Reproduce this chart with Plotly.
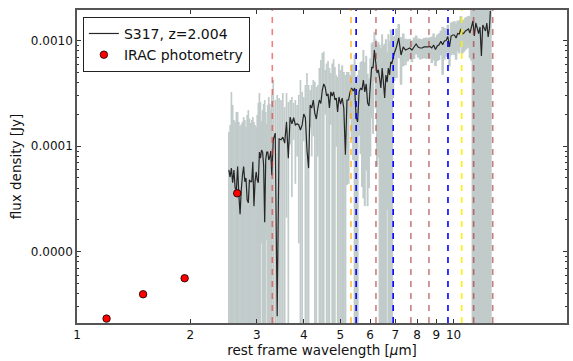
import plotly.graph_objects as go

# IRS spectrum of S317 (rest frame), flux and 1-sigma error in microJy
wave_um = [
    2.53, 2.55, 2.57, 2.59, 2.61, 2.63, 2.65, 2.67, 2.69, 2.71, 2.73, 2.75, 2.77, 2.79, 2.81,
    2.83, 2.85, 2.87, 2.89, 2.91, 2.93, 2.95, 2.97, 2.99, 3.01, 3.03, 3.05, 3.07, 3.09, 3.11,
    3.13, 3.15, 3.17, 3.19, 3.21, 3.23, 3.25, 3.27, 3.29,
    3.32, 3.36, 3.40, 3.44, 3.48, 3.52, 3.56, 3.60, 3.64, 3.68, 3.72, 3.76, 3.80, 3.84, 3.88,
    3.92, 3.96, 4.00, 4.04, 4.08, 4.12, 4.16, 4.20, 4.24, 4.28, 4.32, 4.36, 4.40, 4.44, 4.48,
    4.52, 4.56, 4.60, 4.64, 4.68, 4.72, 4.76, 4.80, 4.84, 4.88, 4.92, 4.96,
    5.01, 5.06, 5.11, 5.16, 5.21, 5.26, 5.31, 5.36, 5.41, 5.46, 5.51, 5.56, 5.61, 5.66, 5.71,
    5.76, 5.81, 5.86, 5.91, 5.96, 6.01, 6.06, 6.11, 6.16, 6.21, 6.26, 6.31, 6.36, 6.41, 6.46,
    6.51, 6.56, 6.61, 6.66, 6.71, 6.76, 6.81, 6.86, 6.91, 6.96,
    7.05, 7.15, 7.25, 7.35, 7.45, 7.55, 7.65, 7.75, 7.85, 7.95, 8.05, 8.15, 8.25, 8.35, 8.45,
    8.55, 8.65, 8.75, 8.85, 8.95, 9.05, 9.15, 9.25, 9.35, 9.45, 9.55, 9.65, 9.75, 9.85, 9.95,
    10.05, 10.15, 10.25, 10.35, 10.45, 10.55, 10.65, 10.75, 10.85, 10.95, 11.05, 11.15, 11.25,
    11.35, 11.45, 11.55, 11.65, 11.75, 11.85, 11.95, 12.05, 12.15, 12.25, 12.35, 12.45, 12.52,
]
flux_ujy = [
    59.5, 51, 62, 45, 59.5, 40, 38.5, 64, 34.5, 22.7, 38.5, 53, 64, 46, 50,
    31, 29, 48, 46, 46, 71, 27, 46, 57, 48, 45, 88, 77, 92, 88,
    66, 19, 74, 88, 88, 74, 79, 90, 53,
    115, 133, 2.45, 117, 115, 122, 107, 170, 77, 189, 163, 186, 159, 163, 159,
    142, 159, 202, 186, 92, 62, 246, 230, 274, 206, 181, 230, 274, 254, 341,
    389, 364, 299, 313, 230, 327, 299, 327, 274, 286, 211, 293,
    251, 286, 230, 83, 274, 274, 327, 356, 334, 356, 189, 170, 327, 356, 341,
    424, 327, 389, 257, 240, 380, 564, 551, 816, 628, 494, 528, 441, 356, 551,
    405, 286, 473, 405, 551, 473, 628, 615, 686, 765,
    872, 1061, 732, 872, 816, 834, 853, 816, 872, 930, 872, 853, 853, 872, 872,
    872, 881, 853, 910, 825, 891, 916, 987, 916, 993, 1004, 1096, 872, 1108, 1132,
    1132, 1061, 1170, 1157, 1291, 1157, 1183, 1236, 1263, 1291, 1183, 1348, 1537,
    1108, 1471, 1320, 1170, 1348, 716, 1409, 1320, 1236, 1471, 1084, 1320, 1912,
]
err_ujy = [
    77, 108, 265, 201, 118, 130, 172, 147, 135, 132, 123, 117, 125, 131, 102,
    167, 191, 135, 120, 131, 118, 143, 113, 95, 150, 212, 231, 185, 80, 132,
    185, 255, 137, 75, 158, 219, 172, 130, 253,
    309, 141, 304, 169, 159, 197, 128, 149, 185, 85, 130, 71, 115, 83, 147,
    282, 168, 91, 194, 402, 318, 95, 150, 150, 204, 183, 150, 277, 402, 424,
    400, 164, 310, 330, 321, 167, 310, 340, 290, 187, 242, 310,
    277, 300, 275, 390, 231, 230, 146, 240, 260, 380, 264, 303, 201, 272, 300,
    392, 300, 330, 230, 200, 300, 380, 420, 400, 400, 430, 450, 480, 500, 600,
    500, 650, 560, 380, 600, 520, 650, 640, 400, 350,
    430, 380, 350, 300, 230, 200, 190, 190, 200, 190, 180, 190, 180, 190, 200,
    190, 200, 240, 260, 250, 250, 260, 260, 440, 330, 300, 320, 300, 380, 380,
    400, 400, 380, 400, 420, 400, 400, 420, 420, 430, 500, 700, 1700,
    1500, 1800, 1600, 1500, 1700, 1400, 1700, 1600, 1500, 1800, 1500, 1600, 2000,
]

# IRAC 3.6/4.5/5.8/8.0 um photometry shifted to the rest frame
irac_wave_um = [1.198, 1.498, 1.931, 2.663]
irac_flux_ujy = [2.32, 3.95, 5.6, 35.8]

# Feature wavelengths (PAH, H2, [FeII], [SIV]) and their marker colours
feature_wave_um = [3.30, 5.34, 5.51, 6.22, 6.91, 7.70, 8.60, 9.66, 10.51, 11.30, 12.70]
feature_color = [
    "rgba(235,40,40,0.6)", "rgba(255,165,0,0.75)", "rgba(0,0,255,1)", "rgba(165,42,42,0.6)",
    "rgba(0,0,255,1)", "rgba(165,42,42,0.6)", "rgba(165,42,42,0.6)", "rgba(0,0,255,1)",
    "rgba(255,240,0,0.95)", "rgba(165,42,42,0.6)", "rgba(165,42,42,0.6)",
]

x_tick_vals = [1, 2, 3, 4, 5, 6, 7, 8, 9, 10, 20]
y_tick_vals = [1e-5, 1e-4, 1e-3]
y_tick_text = ["0.0000", "0.0001", "0.0010"]
y_minor_vals = [k * 10.0 ** e for e in (-6, -5, -4, -3) for k in range(2, 10)]

Y_LOG_RANGE = [-5.676, -2.709]
UJY = 1e-6
Y_BOTTOM = 10 ** Y_LOG_RANGE[0]
Y_TOP = 10 ** Y_LOG_RANGE[1]

flux = [f * UJY for f in flux_ujy]
# band edges, kept inside the visible range (non-positive lower bounds sit on the bottom axis)
upper = [min((f + e) * UJY, Y_TOP) for f, e in zip(flux_ujy, err_ujy)]
lower = [max((f - e) * UJY, Y_BOTTOM) for f, e in zip(flux_ujy, err_ujy)]

FONT = "DejaVu Sans, Arial, sans-serif"
BAND = "rgb(193,203,202)"

fig = go.Figure()


def band_trace(lo_w, hi_w, width):
    """Error band drawn as one vertical bar per spectral sample."""
    xs, ys = [], []
    for w, lo, hi in zip(wave_um, lower, upper):
        if lo_w <= w < hi_w:
            xs += [w, w, None]
            ys += [lo, hi, None]
    return go.Scatter(x=xs, y=ys, mode="lines",
                      line=dict(color=BAND, width=width, simplify=False),
                      showlegend=False, hoverinfo="skip")


fig.add_trace(band_trace(0, 5.0, 1.7))
fig.add_trace(band_trace(5.0, 7.0, 2.0))
fig.add_trace(band_trace(7.0, 99, 2.6))

# spectrum
fig.add_trace(go.Scatter(x=wave_um, y=flux, mode="lines", name="S317, z=2.004",
                         line=dict(color="#262626", width=1.2, simplify=False)))

# feature markers
for w, c in zip(feature_wave_um, feature_color):
    fig.add_trace(go.Scatter(x=[w, w], y=[Y_BOTTOM, Y_TOP], mode="lines",
                             line=dict(color=c, width=1.6, dash="6px,6px"),
                             showlegend=False, hoverinfo="skip"))

# photometry
fig.add_trace(go.Scatter(x=irac_wave_um, y=[f * UJY for f in irac_flux_ujy],
                         mode="markers", name="IRAC photometry",
                         marker=dict(color="red", size=7.5,
                                     line=dict(color="black", width=0.8))))

axis_common = dict(
    type="log", showgrid=False, zeroline=False, showline=True,
    linecolor="#555555", linewidth=1.5, mirror="ticks",
    ticks="inside", ticklen=4, tickwidth=1, tickcolor="#333333",
    tickfont=dict(family=FONT, size=12, color="#111111"),
    automargin=False,
)

fig.update_layout(
    width=573, height=361,
    margin=dict(l=77, r=6, t=10, b=38),
    paper_bgcolor="white", plot_bgcolor="white",
    font=dict(family=FONT, color="#111111"),
    xaxis=dict(
        **axis_common,
        range=[0, 1.30103],
        tickmode="array", tickvals=x_tick_vals,
        ticktext=[str(v) for v in x_tick_vals],
        title=dict(text="rest frame wavelength [<i>μ</i>m]",
                   font=dict(family=FONT, size=13.5), standoff=4),
    ),
    yaxis=dict(
        **axis_common,
        range=Y_LOG_RANGE,
        tickmode="array", tickvals=y_tick_vals, ticktext=y_tick_text,
        minor=dict(tickmode="array", tickvals=y_minor_vals, ticks="inside",
                   ticklen=2, tickcolor="#333333", showgrid=False),
        title=dict(text="flux density [Jy]", font=dict(family=FONT, size=13.5),
                   standoff=6),
    ),
    legend=dict(
        x=0.012, y=0.978, xanchor="left", yanchor="top",
        traceorder="normal",
        bgcolor="white", bordercolor="#222222", borderwidth=1,
        font=dict(family=FONT, size=14, color="#111111"),
        tracegroupgap=0, itemwidth=30,
    ),
    showlegend=True,
)

fig.write_html("out.html")
